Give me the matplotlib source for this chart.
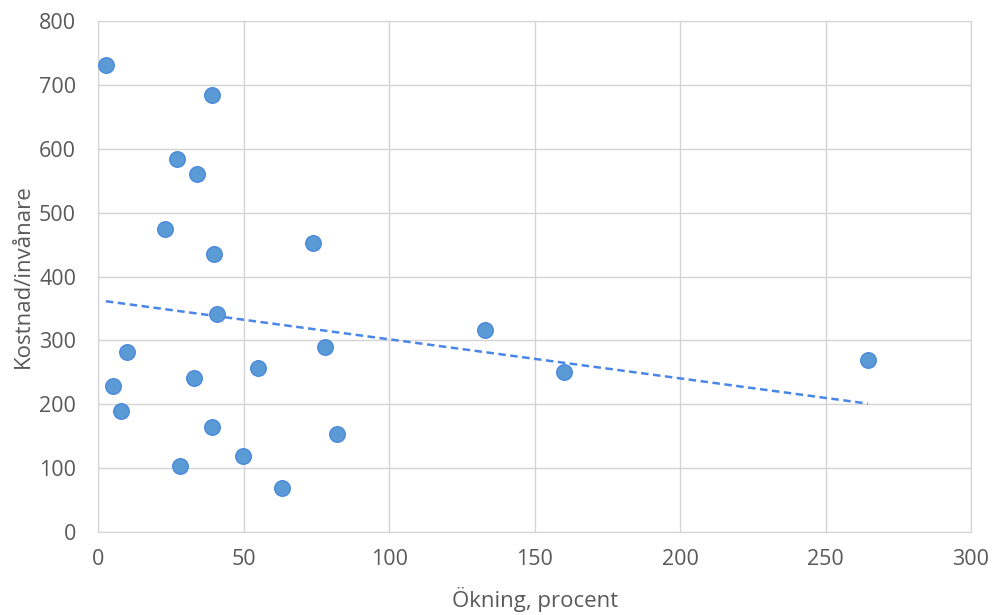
import numpy as np
import matplotlib.pyplot as plt

# Data
okning = [2.6, 39.1, 27.0, 33.9, 22.9, 39.8, 73.8, 40.8, 132.9, 160.1, 264.5,
          77.9, 54.9, 9.9, 5.1, 32.9, 7.8, 39.1, 82.0, 28.1, 49.7, 63.1]
kostnad = [730, 684, 584, 560, 474, 435, 452, 342, 317, 251, 269,
           289, 257, 282, 228, 241, 190, 164, 154, 104, 120, 70]

x_ticks = [0, 50, 100, 150, 200, 250, 300]
y_ticks = [0, 100, 200, 300, 400, 500, 600, 700, 800]

plt.rcParams['font.family'] = ['Open Sans', 'DejaVu Sans']

fig = plt.figure(figsize=(9.92, 6.15), dpi=100)
ax = fig.add_axes([0.0991, 0.1345, 0.8797, 0.8318])

# Linear trendline
k, m = np.polyfit(okning, kostnad, 1)
xl = np.array([min(okning), max(okning)])
ax.plot(xl, k * xl + m, color='#4A86E8', linestyle=(0, (3, 1.8)), linewidth=1.8, zorder=2)

ax.scatter(okning, kostnad, s=125, color='#5B9BD5', edgecolor='#4A89DC', linewidth=1, zorder=3)

ax.set_xlim(0, 300)
ax.set_ylim(0, 800)
ax.set_xticks(x_ticks)
ax.set_yticks(y_ticks)
ax.grid(True, color='#D4D4D4', linewidth=1)
ax.set_axisbelow(True)
for s in ax.spines.values():
    s.set_color('#D4D4D4')
ax.tick_params(length=0, labelsize=15.5, colors='#595959', pad=16)
ax.tick_params(axis='x', pad=12)

ax.set_xlabel('Ökning, procent', fontsize=16, color='#595959', labelpad=12)
ax.set_ylabel('Kostnad/invånare', fontsize=16, color='#595959', labelpad=4)

fig.savefig('out.png', dpi=100)
